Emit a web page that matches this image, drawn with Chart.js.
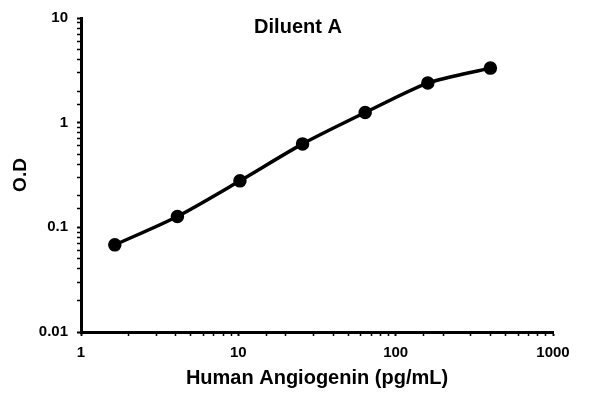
<!DOCTYPE html>
<html>
<head>
<meta charset="utf-8">
<script src="https://cdn.jsdelivr.net/npm/chart.js@4"></script>
<style>
  html, body { margin: 0; padding: 0; background: #fff; }
  #wrap { width: 596px; height: 394px; }
</style>
</head>
<body>
<div id="wrap"><canvas id="myChart" width="596" height="394"></canvas></div>
<script>
// concentrations (pg/mL) and optical density readings
const concentrations = [1.64, 4.1, 10.24, 25.6, 64, 160, 400];
const odValues = [0.068, 0.127, 0.278, 0.627, 1.25, 2.39, 3.32];

const xTickLabels = ['1', '10', '100', '1000'];   // 10^0 .. 10^3
const yTickLabels = ['0.01', '0.1', '1', '10'];   // 10^-2 .. 10^1

const chartTitle = 'Diluent A';
const xTitle = 'Human Angiogenin (pg/mL)';
const yTitle = 'O.D';

const fontFamily = '"Liberation Sans", Arial, sans-serif';

function isDecade(v) {
    let l = Math.log10(v);
    return Math.abs(l - Math.round(l)) < 1e-6;
}

// title sits inside the plot box, so draw it ourselves
const titlePlugin = {
    id: 'insideTitle',
    afterDraw(chart) {
        const ctx = chart.ctx;
        ctx.save();
        ctx.font = 'bold 20px ' + fontFamily;
        ctx.fillStyle = '#000';
        ctx.textAlign = 'center';
        ctx.textBaseline = 'middle';
        ctx.fillText(chartTitle, 298, 27);
        ctx.restore();
    }
};

let callChart = document.getElementById('myChart').getContext('2d');
let chart = new Chart(callChart, {
    type: 'line',
    data: {
        datasets: [{
            label: chartTitle,
            data: concentrations.map((c, i) => ({ x: c, y: odValues[i] })),
            borderColor: '#000',
            backgroundColor: '#000',
            borderWidth: 3.5,
            pointRadius: 5,
            pointHoverRadius: 5,
            tension: 0.25,
            fill: false
        }]
    },
    plugins: [titlePlugin],
    options: {
        responsive: false,
        animation: false,
        events: [],
        layout: { padding: { left: 0, right: 43, top: 17, bottom: 0 } },
        plugins: {
            legend: { display: false },
            tooltip: { enabled: false }
        },
        scales: {
            x: {
                type: 'logarithmic',
                min: 1,
                max: 1000,
                afterFit: (s) => { s.height = 62; },
                border: { display: true, color: '#000', width: 3 },
                grid: {
                    drawOnChartArea: false,
                    drawTicks: true,
                    tickLength: 4,
                    tickColor: '#000',
                    tickWidth: (c) => isDecade(c.tick.value) ? 2 : 1.5
                },
                ticks: {
                    autoSkip: false,
                    maxRotation: 0,
                    padding: 8,
                    color: '#000',
                    font: { family: fontFamily, size: 15, weight: 'bold' },
                    callback: (v) => isDecade(v) ? xTickLabels[Math.round(Math.log10(v))] : ''
                },
                title: {
                    display: true,
                    text: xTitle,
                    color: '#000',
                    font: { family: fontFamily, size: 20, weight: 'bold' },
                    padding: { top: 0, bottom: 4 }
                }
            },
            y: {
                type: 'logarithmic',
                min: 0.01,
                max: 10,
                afterFit: (s) => { s.width = 81; },
                border: { display: true, color: '#000', width: 3 },
                grid: {
                    drawOnChartArea: false,
                    drawTicks: true,
                    tickLength: 4,
                    tickColor: '#000',
                    tickWidth: (c) => isDecade(c.tick.value) ? 2 : 1.5
                },
                ticks: {
                    autoSkip: false,
                    padding: 9,
                    color: '#000',
                    font: { family: fontFamily, size: 15, weight: 'bold' },
                    callback: (v) => isDecade(v) ? yTickLabels[Math.round(Math.log10(v)) + 2] : ''
                },
                title: {
                    display: true,
                    text: yTitle,
                    color: '#000',
                    font: { family: fontFamily, size: 19, weight: 'bold' },
                    padding: { top: 9, bottom: 0 }
                }
            }
        }
    }
});
</script>
</body>
</html>
